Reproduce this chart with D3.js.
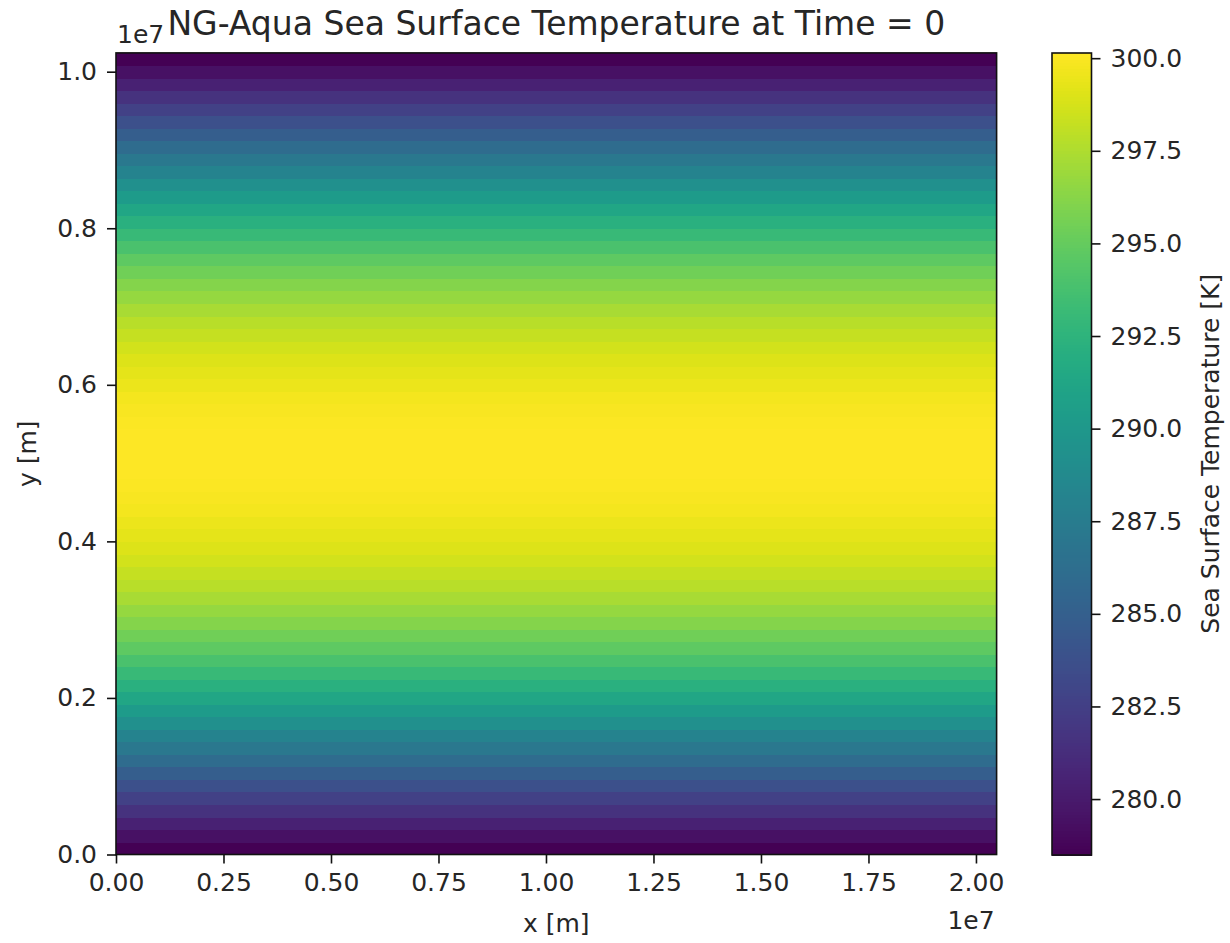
<!DOCTYPE html>
<html>
<head>
<meta charset="utf-8">
<script src="https://cdn.jsdelivr.net/npm/d3@7"></script>
<style>
  html, body { margin: 0; padding: 0; background: #fff; }
  svg text { font-family: "DejaVu Sans", sans-serif; fill: #262626; }
</style>
</head>
<body>
<svg id="chart" width="1230" height="943"></svg>
<script>
// Sea surface temperature [K] for each grid row, from y = 0 (south edge) upward.
const sst = [
  278.49, 279.47, 280.50, 281.57, 282.67, 283.78, 284.90, 286.02,
  287.12, 288.21, 289.27, 290.30, 291.28, 292.22, 293.11, 293.95,
  294.74, 295.46, 296.13, 296.75, 297.30, 297.81, 298.26, 298.65,
  299.00, 299.29, 299.54, 299.74, 299.90, 300.03, 300.11, 300.14,
  300.14, 300.11, 300.03, 299.90, 299.74, 299.54, 299.29, 299.00,
  298.65, 298.26, 297.81, 297.30, 296.75, 296.13, 295.46, 294.74,
  293.95, 293.11, 292.22, 291.28, 290.30, 289.27, 288.21, 287.12,
  286.02, 284.90, 283.78, 282.67, 281.57, 280.50, 279.47, 278.49
];

// Domain extent [m]
const xExtent = [0, 2.048e7];
const yExtent = [0, 1.024e7];

// Axis ticks
const xTicks = [0, 0.25e7, 0.5e7, 0.75e7, 1.0e7, 1.25e7, 1.5e7, 1.75e7, 2.0e7];
const xTickLabels = ["0.00", "0.25", "0.50", "0.75", "1.00", "1.25", "1.50", "1.75", "2.00"];
const yTicks = [0, 0.2e7, 0.4e7, 0.6e7, 0.8e7, 1.0e7];
const yTickLabels = ["0.0", "0.2", "0.4", "0.6", "0.8", "1.0"];
const cbTicks = [280, 282.5, 285, 287.5, 290, 292.5, 295, 297.5, 300];
const cbTickLabels = ["280.0", "282.5", "285.0", "287.5", "290.0", "292.5", "295.0", "297.5", "300.0"];

const titleText = "NG-Aqua Sea Surface Temperature at Time = 0";
const xLabel = "x [m]";
const yLabel = "y [m]";
const cbLabel = "Sea Surface Temperature [K]";
const offsetText = "1e7";

const svg = d3.select("#chart");

const plot = { left: 116, right: 996.6, top: 52.9, bottom: 854.5 };
const cbBox = { left: 1052, right: 1091.5, top: 53, bottom: 855 };

const x = d3.scaleLinear().domain(xExtent).range([plot.left, plot.right]);
const y = d3.scaleLinear().domain(yExtent).range([plot.bottom, plot.top]);

const tExtent = d3.extent(sst);
const color = d3.scaleSequential(d3.interpolateViridis).domain(tExtent);

// Grid rows of the temperature field
const dy = (yExtent[1] - yExtent[0]) / sst.length;
svg.append("g")
  .selectAll("rect")
  .data(sst)
  .join("rect")
  .attr("x", x(xExtent[0]))
  .attr("width", x(xExtent[1]) - x(xExtent[0]))
  .attr("y", (d, i) => y(yExtent[0] + (i + 1) * dy))
  .attr("height", (d, i) => y(yExtent[0] + i * dy) - y(yExtent[0] + (i + 1) * dy) + 0.6)
  .attr("fill", d => color(d))
  .attr("shape-rendering", "crispEdges");

// Axes frame
svg.append("rect")
  .attr("x", plot.left).attr("y", plot.top)
  .attr("width", plot.right - plot.left).attr("height", plot.bottom - plot.top)
  .attr("fill", "none").attr("stroke", "#111").attr("stroke-width", 1.6);

const fontSize = 25;
const tickLen = 9;

// x axis
const xAxis = svg.append("g").attr("transform", `translate(0,${plot.bottom})`)
  .call(d3.axisBottom(x).tickValues(xTicks).tickFormat((d, i) => xTickLabels[i])
    .tickSizeOuter(0).tickSizeInner(tickLen).tickPadding(10));
xAxis.select(".domain").remove();
xAxis.selectAll(".tick line").attr("stroke", "#111").attr("stroke-width", 1.6);
xAxis.selectAll(".tick text").attr("font-size", fontSize).attr("fill", "#262626")
  .attr("font-family", "DejaVu Sans");

// y axis
const yAxis = svg.append("g").attr("transform", `translate(${plot.left},0)`)
  .call(d3.axisLeft(y).tickValues(yTicks).tickFormat((d, i) => yTickLabels[i])
    .tickSizeOuter(0).tickSizeInner(tickLen).tickPadding(10));
yAxis.select(".domain").remove();
yAxis.selectAll(".tick line").attr("stroke", "#111").attr("stroke-width", 1.6);
yAxis.selectAll(".tick text").attr("font-size", fontSize).attr("fill", "#262626")
  .attr("font-family", "DejaVu Sans");

// Colorbar
const cbY = d3.scaleLinear().domain(tExtent).range([cbBox.bottom, cbBox.top]);
const nSteps = 256;
const cbVals = d3.range(nSteps).map(i => tExtent[0] + (tExtent[1] - tExtent[0]) * i / nSteps);
const cbStep = (tExtent[1] - tExtent[0]) / nSteps;
svg.append("g")
  .selectAll("rect")
  .data(cbVals)
  .join("rect")
  .attr("x", cbBox.left)
  .attr("width", cbBox.right - cbBox.left)
  .attr("y", d => cbY(d + cbStep))
  .attr("height", d => cbY(d) - cbY(d + cbStep) + 0.6)
  .attr("fill", d => color(d + cbStep / 2))
  .attr("shape-rendering", "crispEdges");

svg.append("rect")
  .attr("x", cbBox.left).attr("y", cbBox.top)
  .attr("width", cbBox.right - cbBox.left).attr("height", cbBox.bottom - cbBox.top)
  .attr("fill", "none").attr("stroke", "#111").attr("stroke-width", 1.6);

const cbAxis = svg.append("g").attr("transform", `translate(${cbBox.right},0)`)
  .call(d3.axisRight(cbY).tickValues(cbTicks).tickFormat((d, i) => cbTickLabels[i])
    .tickSizeOuter(0).tickSizeInner(tickLen).tickPadding(10));
cbAxis.select(".domain").remove();
cbAxis.selectAll(".tick line").attr("stroke", "#111").attr("stroke-width", 1.6);
cbAxis.selectAll(".tick text").attr("font-size", fontSize).attr("fill", "#262626")
  .attr("font-family", "DejaVu Sans");

// Labels
const cx = (plot.left + plot.right) / 2;
const cy = (plot.top + plot.bottom) / 2;

svg.append("text").text(titleText)
  .attr("x", cx).attr("y", 35).attr("text-anchor", "middle").attr("font-size", 33);

svg.append("text").text(offsetText)
  .attr("x", plot.left + 1).attr("y", 43).attr("text-anchor", "start").attr("font-size", fontSize);

svg.append("text").text(offsetText)
  .attr("x", plot.right - 2).attr("y", 929).attr("text-anchor", "end").attr("font-size", fontSize);

svg.append("text").text(xLabel)
  .attr("x", cx).attr("y", 932).attr("text-anchor", "middle").attr("font-size", fontSize);

svg.append("text").text(yLabel)
  .attr("transform", `translate(36,${cy}) rotate(-90)`)
  .attr("text-anchor", "middle").attr("font-size", fontSize);

svg.append("text").text(cbLabel)
  .attr("transform", `translate(1219,${cy}) rotate(-90)`)
  .attr("text-anchor", "middle").attr("font-size", fontSize);
</script>
</body>
</html>
